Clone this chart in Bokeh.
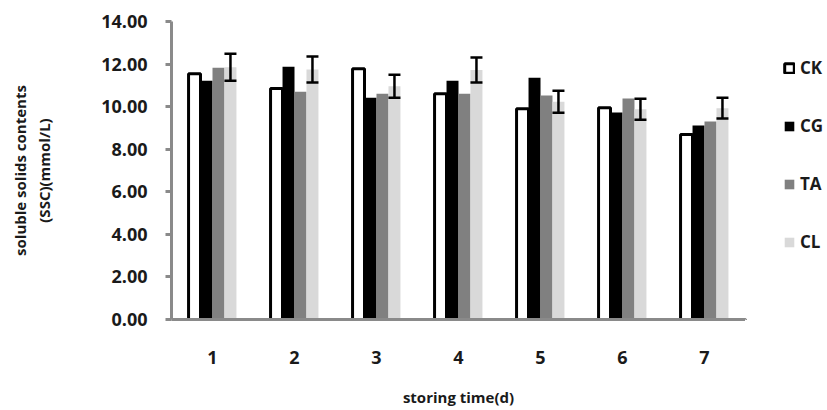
from bokeh.plotting import figure
from bokeh.layouts import row
from bokeh.models import (ColumnDataSource, FixedTicker, NumeralTickFormatter,
                          Whisker, TeeHead, Legend, LegendItem, Range1d)
from bokeh.transform import dodge
from bokeh.embed import file_html
from bokeh.resources import INLINE

# storing time (days)
days = [1, 2, 3, 4, 5, 6, 7]
day_labels = ["1", "2", "3", "4", "5", "6", "7"]

# soluble solids contents per treatment
ck = [11.55, 10.85, 11.78, 10.61, 9.90, 9.95, 8.69]
cg = [11.22, 11.88, 10.42, 11.22, 11.36, 9.72, 9.11]
ta = [11.83, 10.70, 10.61, 10.61, 10.52, 10.38, 9.30]
cl = [11.85, 11.74, 10.96, 11.72, 10.23, 9.88, 9.93]
cl_err = [0.63, 0.61, 0.54, 0.59, 0.52, 0.49, 0.49]

series_names = ["CK", "CG", "TA", "CL"]
y_ticks = [0, 2, 4, 6, 8, 10, 12, 14]

FONT = "Open Sans"
TXT = "#1a1a1a"
AXIS_GREY = "#8a8a8a"

styles = {
    "CK": dict(fill_color="white", line_color="black", line_width=3),
    "CG": dict(fill_color="black", line_color=None),
    "TA": dict(fill_color="#808080", line_color=None),
    "CL": dict(fill_color="#d9d9d9", line_color=None),
}

src = ColumnDataSource(dict(
    day=days, CK=ck, CG=cg, TA=ta, CL=cl,
    cl_hi=[v + e for v, e in zip(cl, cl_err)],
    cl_lo=[v - e for v, e in zip(cl, cl_err)],
))

p = figure(width=745, height=410, output_backend="svg", toolbar_location=None,
           x_range=Range1d(0.5, 7.5), y_range=Range1d(0, 14),
           min_border_left=171, min_border_right=0,
           min_border_top=21, min_border_bottom=91)

bw = 0.146
offsets = [-1.5 * bw, -0.5 * bw, 0.5 * bw, 1.5 * bw]
for name, off in zip(series_names, offsets):
    p.vbar(x=dodge("day", off), top=name, width=bw, source=src, **styles[name])

# error bars on the CL series, drawn above the bars
whisk = Whisker(base=dodge("day", offsets[3]), upper="cl_hi", lower="cl_lo",
                source=src, line_color="black", line_width=2.5, level="overlay",
                upper_head=TeeHead(size=12, line_width=2.5, line_color="black"),
                lower_head=TeeHead(size=12, line_width=2.5, line_color="black"))
p.add_layout(whisk)

p.grid.visible = False
p.outline_line_color = None
p.background_fill_color = "white"
p.border_fill_color = "white"

# y axis
p.yaxis.ticker = FixedTicker(ticks=y_ticks)
p.yaxis.formatter = NumeralTickFormatter(format="0.00")
p.yaxis.axis_line_color = AXIS_GREY
p.yaxis.axis_line_width = 3
p.yaxis.major_tick_line_color = AXIS_GREY
p.yaxis.major_tick_line_width = 3
p.yaxis.major_tick_out = 6
p.yaxis.major_tick_in = 0
p.yaxis.minor_tick_line_color = None
p.yaxis.major_label_standoff = 18
p.yaxis.major_label_text_font = FONT
p.yaxis.major_label_text_font_style = "bold"
p.yaxis.major_label_text_font_size = "18px"
p.yaxis.major_label_text_color = TXT
p.yaxis.axis_label = "soluble solids contents\n(SSC)(mmol/L)"
p.yaxis.axis_label_text_font = FONT
p.yaxis.axis_label_text_font_style = "bold"
p.yaxis.axis_label_text_font_size = "15px"
p.yaxis.axis_label_text_color = TXT
p.yaxis.axis_label_standoff = 44

# x axis
p.xaxis.ticker = FixedTicker(ticks=days)
p.xaxis.major_label_overrides = {d: s for d, s in zip(days, day_labels)}
p.xaxis.axis_line_color = AXIS_GREY
p.xaxis.axis_line_width = 3
p.xaxis.major_tick_line_color = None
p.xaxis.minor_tick_line_color = None
p.xaxis.major_label_standoff = 25
p.xaxis.major_label_text_font = FONT
p.xaxis.major_label_text_font_style = "bold"
p.xaxis.major_label_text_font_size = "18px"
p.xaxis.major_label_text_color = TXT
p.xaxis.axis_label = "storing time(d)"
p.xaxis.axis_label_text_font = FONT
p.xaxis.axis_label_text_font_style = "bold"
p.xaxis.axis_label_text_font_size = "15px"
p.xaxis.axis_label_text_color = TXT
p.xaxis.axis_label_standoff = 20

# legend panel to the right of the plot area; its swatch renderers sit
# outside the panel's visible range so only the legend is drawn
lg = figure(width=82, height=410, output_backend="svg", toolbar_location=None,
            x_range=Range1d(0, 1), y_range=Range1d(0, 1),
            min_border=0, outline_line_color=None)
lg.axis.visible = False
lg.grid.visible = False
lg.border_fill_color = "white"
swatch = ColumnDataSource(dict(x=[-10], top=[-10]))
items = []
for name in series_names:
    r = lg.vbar(x="x", top="top", width=0.1, source=swatch, **styles[name])
    items.append(LegendItem(label=name, renderers=[r]))

legend = Legend(items=items, location=(38, 66), orientation="vertical",
                glyph_width=12, glyph_height=12, label_height=12,
                spacing=35, padding=0, margin=0, label_standoff=5,
                border_line_color=None, background_fill_alpha=0,
                label_text_font=FONT, label_text_font_style="bold",
                label_text_font_size="17px", label_text_color=TXT)
lg.add_layout(legend)

layout = row(p, lg, spacing=0)
open("out.html", "w").write(file_html(layout, INLINE))
